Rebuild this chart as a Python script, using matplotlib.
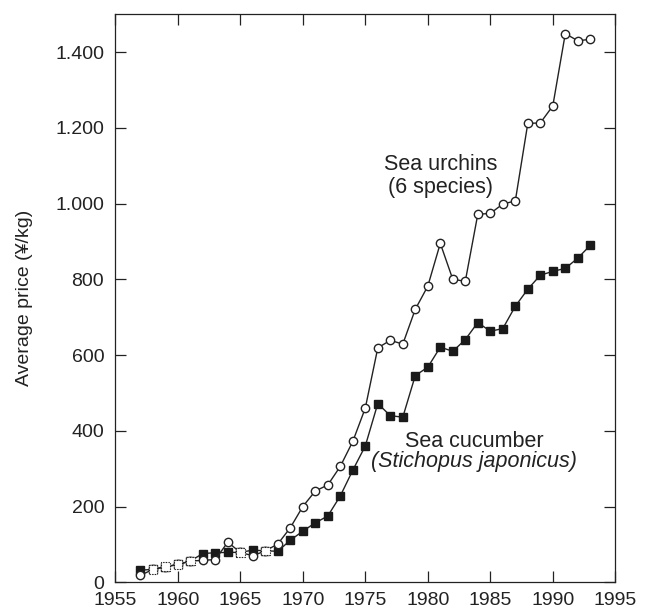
import matplotlib
matplotlib.use("Agg")
import matplotlib.pyplot as plt
from matplotlib.ticker import FixedLocator, FixedFormatter

years = list(range(1957, 1994))
sea_urchins = [18, 34, 41, 47, 56, 58, 60, 106, 79, 70, 83, 101, 144, 200, 241, 257,
               306, 372, 460, 619, 639, 629, 721, 782, 895, 800, 795, 972, 974, 999,
               1007, 1212, 1213, 1258, 1449, 1430, 1434]
sea_cucumber = [32, 34, 41, 47, 56, 76, 78, 79, 79, 85, 83, 82, 111, 135, 157, 175,
                228, 296, 360, 472, 440, 436, 546, 568, 621, 610, 641, 686, 663, 670,
                729, 774, 811, 821, 829, 856, 890]
shared_years = [1958, 1959, 1960, 1961, 1965, 1967]

x_ticks = [1955, 1960, 1965, 1970, 1975, 1980, 1985, 1990, 1995]
y_ticks = [0, 200, 400, 600, 800, 1000, 1200, 1400]
y_tick_labels = ["0", "200", "400", "600", "800", "1.000", "1.200", "1.400"]

plt.rcParams['font.family'] = ['Liberation Sans', 'DejaVu Sans']
ink = "#222222"

fig = plt.figure(figsize=(6.55, 6.13), dpi=100)
ax = fig.add_axes([0.176, 0.0501, 0.7634, 0.9266])

ax.plot(years, sea_cucumber, color=ink, lw=1.0, marker='s', ms=6.0,
        mfc='#1a1a1a', mec='#1a1a1a', zorder=3)
ax.plot(years, sea_urchins, color=ink, lw=1.0, marker='o', ms=6.0,
        mfc='white', mec=ink, mew=1.0, zorder=4)

shared_vals = [sea_urchins[years.index(y)] for y in shared_years]
ax.scatter(shared_years, shared_vals, marker='s', s=38, facecolors='white',
           edgecolors=ink, linewidths=0.8, linestyles=(0, (1.2, 1.2)), zorder=5)

ax.set_xlim(1955, 1995)
ax.set_ylim(0, 1500)
ax.xaxis.set_major_locator(FixedLocator(x_ticks))
ax.yaxis.set_major_locator(FixedLocator(y_ticks))
ax.yaxis.set_major_formatter(FixedFormatter(y_tick_labels))

ax.tick_params(direction='in', length=7.8, width=0.9, color=ink, labelcolor=ink,
               labelsize=14, top=True, right=True)
ax.tick_params(axis='y', pad=8)
ax.tick_params(axis='x', pad=7)
for s in ax.spines.values():
    s.set_color(ink)
    s.set_linewidth(0.9)

ax.set_ylabel("Average price (¥/kg)", fontsize=14, color=ink)
ax.yaxis.set_label_coords(-0.165, 0.5)

ax.text(1981.0, 1074, "Sea urchins\n(6 species)", ha='center', va='center',
        fontsize=15.5, color=ink, linespacing=1.12)
ax.text(1983.7, 371, "Sea cucumber", ha='center', va='center', fontsize=15.5, color=ink)
ax.text(1983.7, 318, "(Stichopus japonicus)", ha='center', va='center', fontsize=15.5,
        color=ink, style='italic')

fig.savefig("out.png", dpi=100)
